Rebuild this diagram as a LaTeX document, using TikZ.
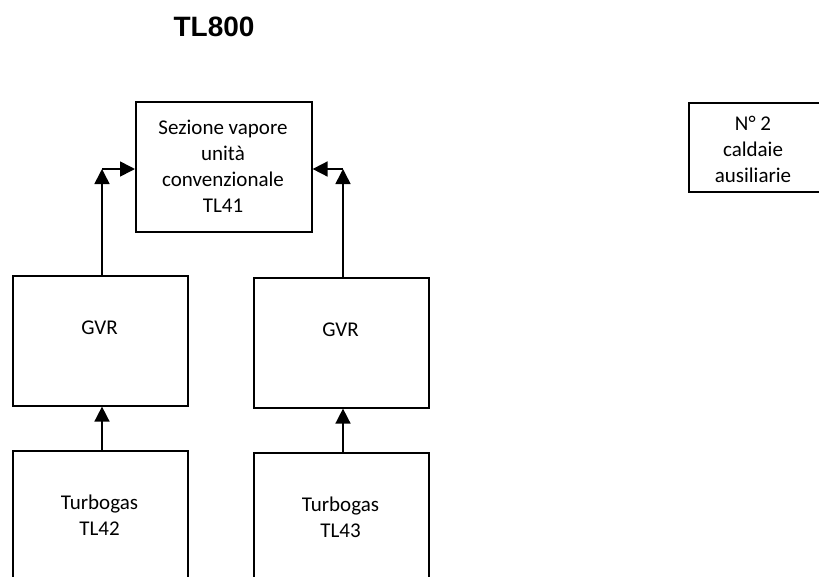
\documentclass[tikz,border=0pt]{standalone}
\usepackage{fontspec}
\setmainfont{Carlito}
\newfontfamily\titlefont{Liberation Sans}
\usetikzlibrary{arrows.meta}
\begin{document}
\begin{tikzpicture}[x=1pt,y=-1pt,
  box/.style={draw,line width=1.6pt,anchor=north west,inner sep=0pt},
  txt/.style={font=\fontsize{21}{26}\selectfont,align=center,inner sep=0pt},
  arr/.style={line width=1.6pt,-{Triangle[length=15pt,width=15pt]}}]
\useasboundingbox (0,0) rectangle (819,576);
\clip (0,0) rectangle (819,576);
\node[font=\titlefont\bfseries\fontsize{28}{32}\selectfont,inner sep=0pt] (title) at (214,27) {TL800};
% boxes
\node[box,minimum width=176pt,minimum height=130pt] (top) at (135,101) {};
\node[txt] (toptxt) at (223,166) {Sezione vapore\\unità\\convenzionale\\TL41};
\node[box,minimum width=175pt,minimum height=130pt] (g1) at (12,275) {};
\node[txt] (g1t) at (99.5,328) {GVR};
\node[box,minimum width=175pt,minimum height=130pt] (g2) at (253,277) {};
\node[txt] (g2t) at (340.5,330) {GVR};
\node[box,minimum width=175pt,minimum height=160pt] (t1) at (12,450) {};
\node[txt] (t1t) at (99.5,515) {Turbogas\\TL42};
\node[box,minimum width=175pt,minimum height=160pt] (t2) at (253,452) {};
\node[txt] (t2t) at (340.5,517) {Turbogas\\TL43};
\node[box,minimum width=140pt,minimum height=89pt] (cald) at (688,102) {};
\node[txt] (caldt) at (753,149) {N° 2\\caldaie\\ausiliarie};
% connectors
\coordinate (c1) at (102,169);
\coordinate (c2) at (343,169);
\draw[arr] (t1.north -| c1) -- (g1.south -| c1);
\draw[arr] (t2.north -| c2) -- (g2.south -| c2);
\draw[arr] (g1.north -| c1) -- (c1);
\draw[arr] (c1) -- (c1 -| top.west);
\draw[arr] (g2.north -| c2) -- (c2);
\draw[arr] (c2) -- (c2 -| top.east);
\end{tikzpicture}
\end{document}
